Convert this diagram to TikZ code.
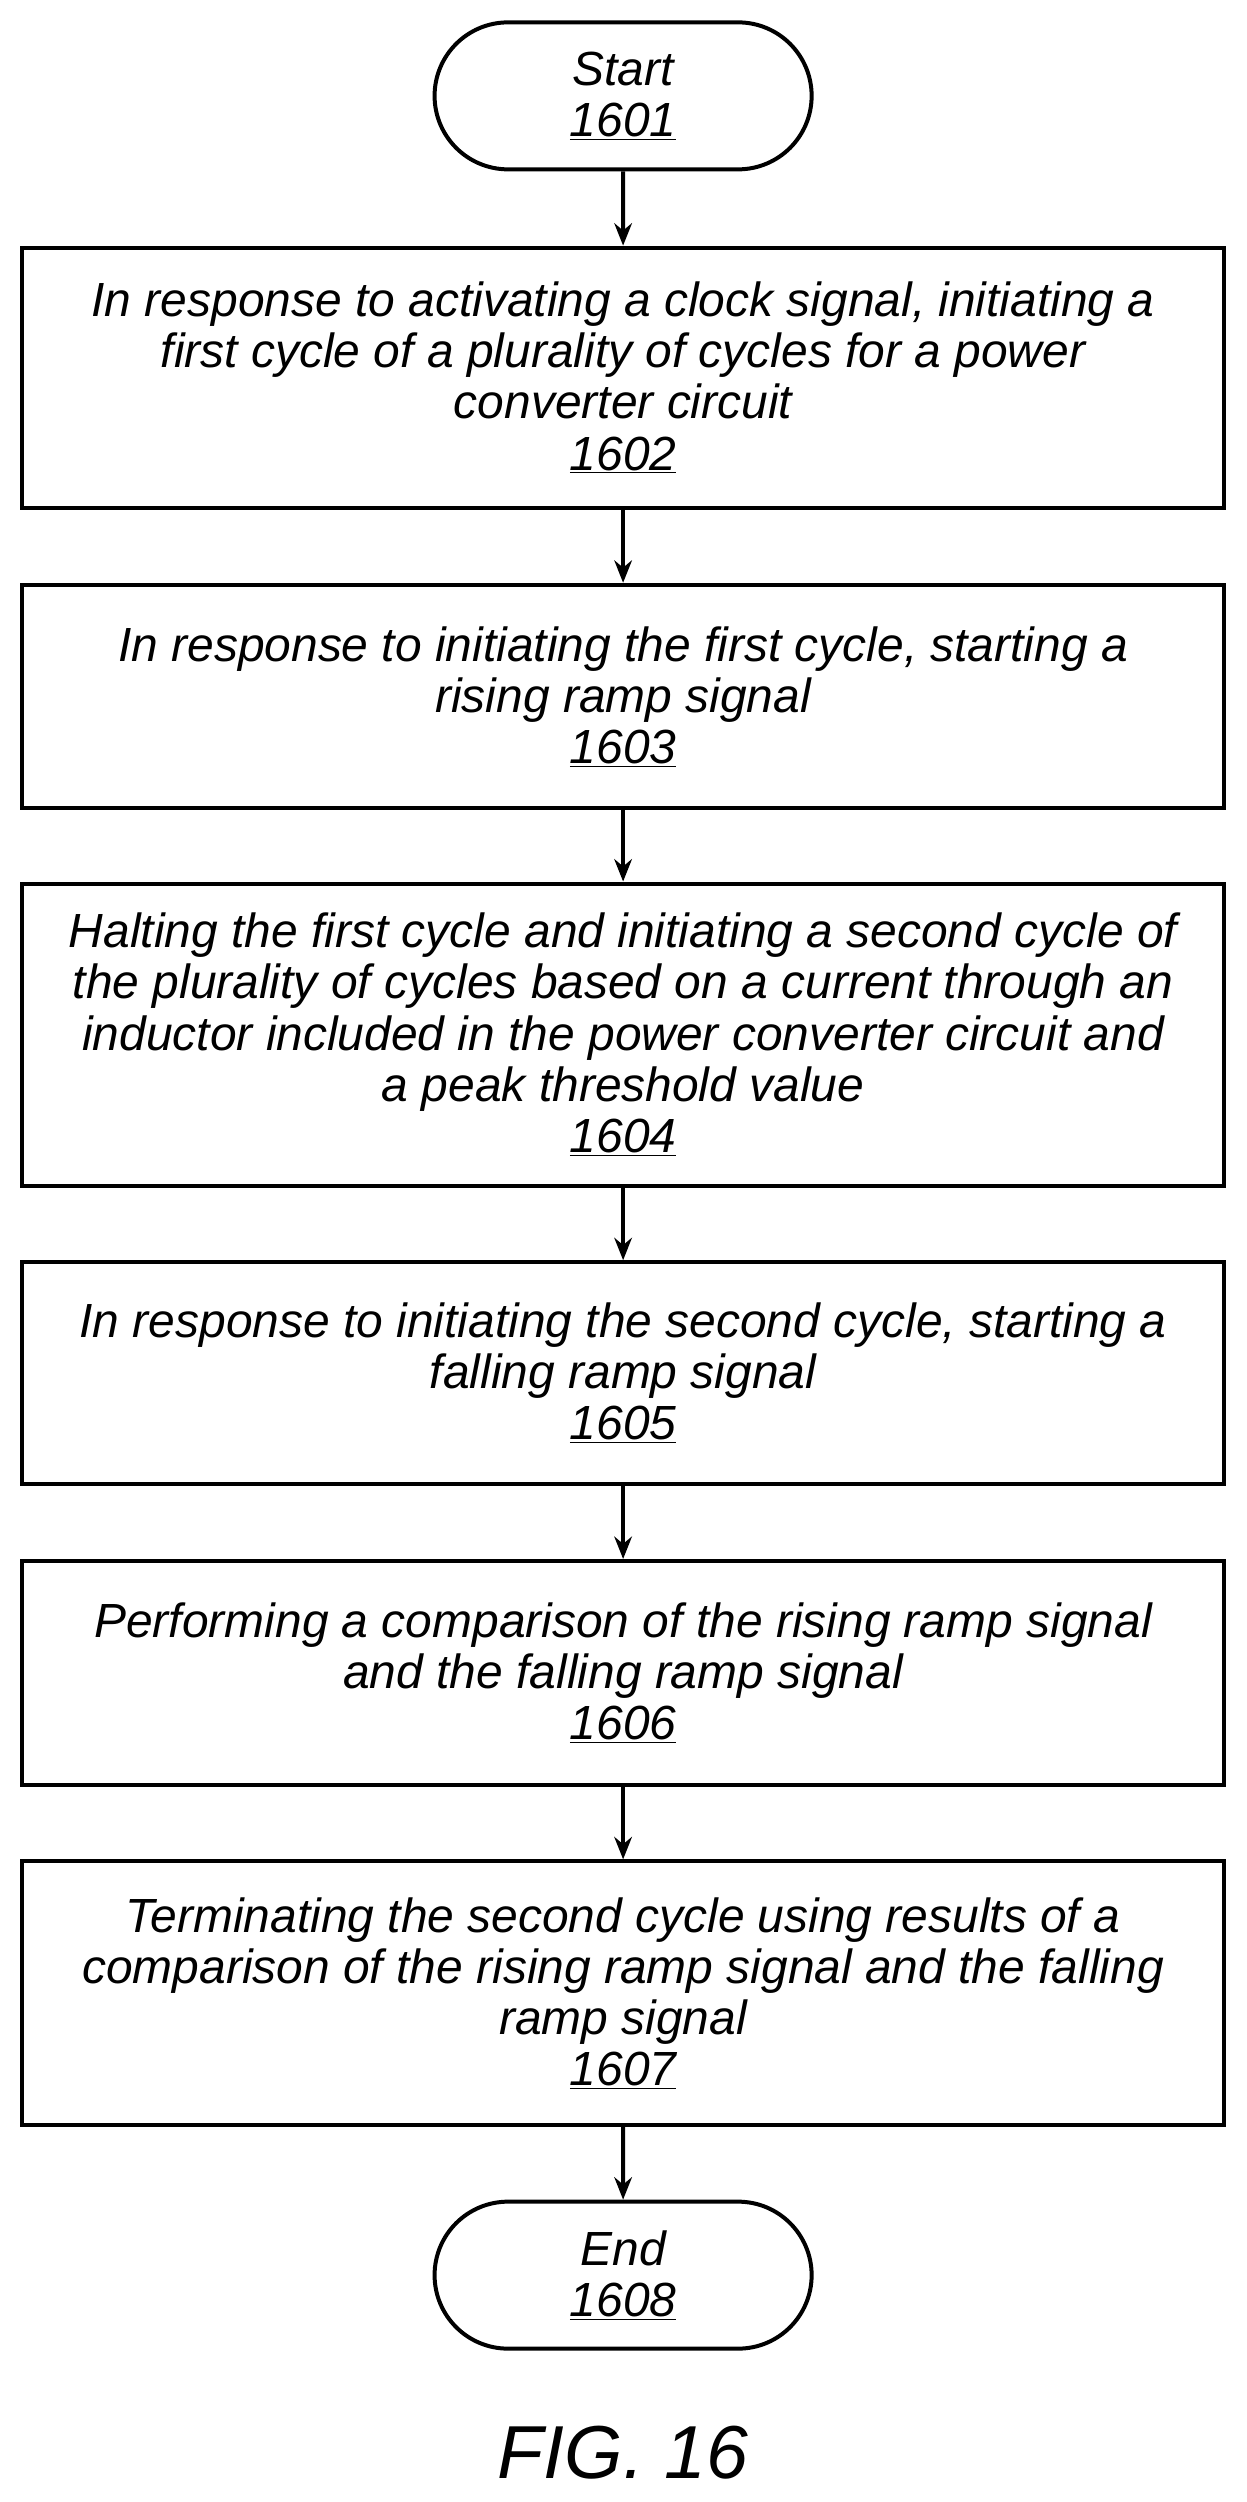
\documentclass[tikz,border=0pt]{standalone}
\usepackage{fontspec}
\setmainfont{Liberation Sans}
\usetikzlibrary{arrows.meta,shapes.misc}
\begin{document}
\begin{tikzpicture}[x=1pt,y=-1pt,
  every node/.style={font=\fontsize{30}{32}\selectfont\itshape, align=center},
  stepbox/.style={draw, line width=2.5pt, minimum width=752pt, inner sep=0pt},
  term/.style={draw, line width=2.5pt, rounded rectangle, minimum width=236pt, minimum height=92pt, inner sep=0pt},
  arr/.style={-{Stealth[length=14pt,width=11pt]}, line width=2.5pt}]
\useasboundingbox (0,0) rectangle (780,1566);
\node[term] (s) at (390,60) {Start\\\underline{1601}};
\node[stepbox, minimum height=163pt] (b2) at (390,236.5) {In response to activating a clock signal, initiating a\\first cycle of a plurality of cycles for a power\\converter circuit\\\underline{1602}};
\node[stepbox, minimum height=140pt] (b3) at (390,436) {In response to initiating the first cycle, starting a\\rising ramp signal\\\underline{1603}};
\node[stepbox, minimum height=189pt] (b4) at (390,647.5) {Halting the first cycle and initiating a second cycle of\\the plurality of cycles based on a current through an\\inductor included in the power converter circuit and\\a peak threshold value\\\underline{1604}};
\node[stepbox, minimum height=139pt] (b5) at (390,859.5) {In response to initiating the second cycle, starting a\\falling ramp signal\\\underline{1605}};
\node[stepbox, minimum height=140pt] (b6) at (390,1047) {Performing a comparison of the rising ramp signal\\and the falling ramp signal\\\underline{1606}};
\node[stepbox, minimum height=165pt] (b7) at (390,1247.5) {Terminating the second cycle using results of a\\comparison of the rising ramp signal and the falling\\ramp signal\\\underline{1607}};
\node[term] (e) at (390,1424) {End\\\underline{1608}};
\node[font=\fontsize{47}{52}\selectfont\itshape] (fig) at (390,1535) {FIG. 16};
\draw[arr] (s) -- (b2);
\draw[arr] (b2) -- (b3);
\draw[arr] (b3) -- (b4);
\draw[arr] (b4) -- (b5);
\draw[arr] (b5) -- (b6);
\draw[arr] (b6) -- (b7);
\draw[arr] (b7) -- (e);
\end{tikzpicture}
\end{document}
